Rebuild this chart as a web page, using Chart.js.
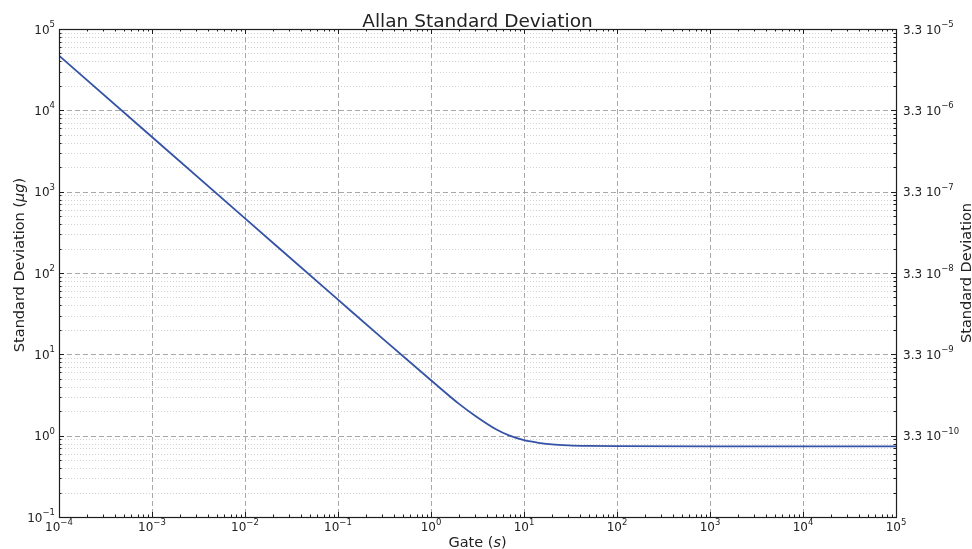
<!DOCTYPE html>
<html>
<head>
<meta charset="utf-8">
<script src="https://cdn.jsdelivr.net/npm/chart.js@4.4.0/dist/chart.umd.min.js"></script>
<style>
  html, body { margin: 0; padding: 0; background: #ffffff; }
  #wrap { width: 972px; height: 549px; position: relative; }
</style>
</head>
<body>
<div id="wrap"><canvas id="chart-allan"></canvas></div>
<script>
// Allan deviation curve
const gateTimes = [1e-4, 1e-3, 1e-2, 1e-1, 0.3, 1, 2, 3, 5, 7, 10, 15, 20, 30, 50, 100, 1e3, 1e4, 1e5];
const stdDevs   = [47000, 4700, 470, 47, 15.7, 4.8, 2.46, 1.75, 1.2, 1.0, 0.88, 0.81, 0.78, 0.76, 0.748, 0.742, 0.74, 0.74, 0.74];

// axis decades and tick labels ("base^exponent")
const xDecades = [-4, -3, -2, -1, 0, 1, 2, 3, 4, 5];
const xTickLabels = ["10^-4", "10^-3", "10^-2", "10^-1", "10^0", "10^1", "10^2", "10^3", "10^4", "10^5"];
const yDecades = [-1, 0, 1, 2, 3, 4, 5];
const yTickLabels = ["10^-1", "10^0", "10^1", "10^2", "10^3", "10^4", "10^5"];
const rightTickValues = [3.3e-10, 3.3e-9, 3.3e-8, 3.3e-7, 3.3e-6, 3.3e-5];
const rightTickLabels = ["3.3 10^-10", "3.3 10^-9", "3.3 10^-8", "3.3 10^-7", "3.3 10^-6", "3.3 10^-5"];
const rightScale = 3.3e-10;

const FONT = "'DejaVu Sans', sans-serif";
const TEXT = "#222222";
const LINE = "#3553a6";
const BASE_SIZE = 12;
const EXP_SIZE = 8.5;
const EXP_RISE = 6.5;

function isDecade(v) {
  const e = Math.log10(v);
  return Math.abs(e - Math.round(e)) < 1e-9;
}

// decade + minor (2..9) tick values over a list of decades
function logTicks(decades) {
  const out = [];
  decades.forEach((d, i) => {
    const base = Math.pow(10, d);
    out.push(base);
    if (i < decades.length - 1) {
      for (let k = 2; k <= 9; k++) out.push(k * base);
    }
  });
  return out;
}

// draw "10^-4" style label; align: 'center' | 'right' | 'left' at x, base baseline at y
function drawPower(ctx, label, x, y, align) {
  const [base, exp] = label.split("^");
  const expText = exp.replace("-", "\u2212");
  ctx.font = BASE_SIZE + "px " + FONT;
  const wb = ctx.measureText(base).width;
  ctx.font = EXP_SIZE + "px " + FONT;
  const we = ctx.measureText(expText).width;
  const total = wb + we;
  let x0 = x;
  if (align === "center") x0 = x - total / 2;
  else if (align === "right") x0 = x - total;
  ctx.font = BASE_SIZE + "px " + FONT;
  ctx.fillText(base, x0, y);
  ctx.font = EXP_SIZE + "px " + FONT;
  ctx.fillText(expText, x0 + wb, y - EXP_RISE);
}

const gridAndFrame = {
  id: "gridAndFrame",
  beforeDatasetsDraw(chart) {
    const { ctx, chartArea: a, scales } = chart;
    ctx.save();
    // minor horizontal dotted lines
    ctx.lineWidth = 1;
    ctx.strokeStyle = "#d2d2d2";
    ctx.setLineDash([1, 2]);
    scales.y.ticks.forEach((t) => {
      if (isDecade(t.value)) return;
      const y = Math.round(scales.y.getPixelForValue(t.value)) + 0.5;
      ctx.beginPath(); ctx.moveTo(a.left, y); ctx.lineTo(a.right, y); ctx.stroke();
    });
    // major dashed lines
    ctx.strokeStyle = "#a8a8a8";
    ctx.setLineDash([5, 3]);
    scales.y.ticks.forEach((t) => {
      if (!isDecade(t.value)) return;
      const y = Math.round(scales.y.getPixelForValue(t.value)) + 0.5;
      ctx.beginPath(); ctx.moveTo(a.left, y); ctx.lineTo(a.right, y); ctx.stroke();
    });
    scales.x.ticks.forEach((t) => {
      if (!isDecade(t.value)) return;
      const x = Math.round(scales.x.getPixelForValue(t.value)) + 0.5;
      ctx.beginPath(); ctx.moveTo(x, a.top); ctx.lineTo(x, a.bottom); ctx.stroke();
    });
    ctx.restore();
  },
  afterDatasetsDraw(chart) {
    const { ctx, chartArea: a, scales } = chart;
    ctx.save();
    ctx.setLineDash([]);
    ctx.strokeStyle = "#1e1e1e";
    ctx.lineWidth = 1;
    // inward tick marks on all four sides
    scales.x.ticks.forEach((t) => {
      const len = isDecade(t.value) ? 5 : 2.5;
      const x = Math.round(scales.x.getPixelForValue(t.value)) + 0.5;
      ctx.beginPath();
      ctx.moveTo(x, a.bottom); ctx.lineTo(x, a.bottom - len);
      ctx.moveTo(x, a.top); ctx.lineTo(x, a.top + len);
      ctx.stroke();
    });
    scales.y.ticks.forEach((t) => {
      const len = isDecade(t.value) ? 5 : 2.5;
      const y = Math.round(scales.y.getPixelForValue(t.value)) + 0.5;
      ctx.beginPath();
      ctx.moveTo(a.left, y); ctx.lineTo(a.left + len, y);
      ctx.moveTo(a.right, y); ctx.lineTo(a.right - len, y);
      ctx.stroke();
    });
    ctx.lineWidth = 1.2;
    ctx.strokeRect(Math.round(a.left) + 0.5, Math.round(a.top) + 0.5,
      Math.round(a.right - a.left), Math.round(a.bottom - a.top));
    ctx.restore();
  }
};

const tickLabels = {
  id: "tickLabels",
  afterDraw(chart) {
    const { ctx, chartArea: a, scales } = chart;
    ctx.save();
    ctx.fillStyle = TEXT;
    ctx.textBaseline = "alphabetic";
    ctx.textAlign = "left";
    xDecades.forEach((d, i) => {
      const x = scales.x.getPixelForValue(Math.pow(10, d));
      drawPower(ctx, xTickLabels[i], x, a.bottom + 14, "center");
    });
    yDecades.forEach((d, i) => {
      const y = scales.y.getPixelForValue(Math.pow(10, d));
      drawPower(ctx, yTickLabels[i], a.left - 4, y + 4.5, "right");
    });
    rightTickValues.forEach((v, i) => {
      const y = scales.y2.getPixelForValue(v);
      drawPower(ctx, rightTickLabels[i], a.right + 7, y + 4.5, "left");
    });
    ctx.restore();
  }
};

// text with upright and italic (math) runs, centred on the origin
function drawRuns(ctx, runs, size) {
  const fontFor = (r) => (r.italic ? "italic " : "") + size + "px " + FONT;
  let total = 0;
  runs.forEach((r) => { ctx.font = fontFor(r); total += ctx.measureText(r.text).width; });
  let x = -total / 2;
  runs.forEach((r) => {
    ctx.font = fontFor(r);
    ctx.fillText(r.text, x, 0);
    x += ctx.measureText(r.text).width;
  });
}

const titles = {
  id: "titles",
  afterDraw(chart) {
    const { ctx, chartArea: a } = chart;
    const cx = (a.left + a.right) / 2;
    const cy = (a.top + a.bottom) / 2;
    ctx.save();
    ctx.fillStyle = TEXT;
    ctx.textBaseline = "alphabetic";
    ctx.textAlign = "left";

    ctx.save();
    ctx.translate(cx, 26.5);
    drawRuns(ctx, [{ text: "Allan Standard Deviation" }], 18.5);
    ctx.restore();

    ctx.save();
    ctx.translate(cx, 546.5);
    drawRuns(ctx, [{ text: "Gate (" }, { text: "s", italic: true }, { text: ")" }], 14.5);
    ctx.restore();

    ctx.save();
    ctx.translate(24, cy - 8);
    ctx.rotate(-Math.PI / 2);
    drawRuns(ctx, [{ text: "Standard Deviation (" }, { text: "μg", italic: true }, { text: ")" }], 14.5);
    ctx.restore();

    ctx.save();
    ctx.translate(971, cy);
    ctx.rotate(-Math.PI / 2);
    drawRuns(ctx, [{ text: "Standard Deviation" }], 14.5);
    ctx.restore();

    ctx.restore();
  }
};

new Chart(document.getElementById("chart-allan"), {
  type: "line",
  data: {
    datasets: [{
      label: "Allan deviation",
      data: gateTimes.map((t, i) => ({ x: t, y: stdDevs[i] })),
      borderColor: LINE,
      borderWidth: 1.8,
      pointRadius: 0,
      fill: false,
      cubicInterpolationMode: "monotone"
    }]
  },
  options: {
    responsive: true,
    maintainAspectRatio: false,
    animation: false,
    layout: { padding: { top: 29, left: 0, right: 0, bottom: 0 } },
    plugins: { legend: { display: false }, tooltip: { enabled: false }, title: { display: false } },
    scales: {
      x: {
        type: "logarithmic",
        position: "bottom",
        min: 1e-4,
        max: 1e5,
        afterBuildTicks: (s) => { s.ticks = logTicks(xDecades).map((v) => ({ value: v })); },
        afterFit: (s) => { s.height = 32; },
        grid: { display: false },
        border: { display: false },
        ticks: { display: false }
      },
      y: {
        type: "logarithmic",
        position: "left",
        min: 1e-1,
        max: 1e5,
        afterBuildTicks: (s) => { s.ticks = logTicks(yDecades).map((v) => ({ value: v })); },
        afterFit: (s) => { s.width = 59; },
        grid: { display: false },
        border: { display: false },
        ticks: { display: false }
      },
      y2: {
        type: "logarithmic",
        position: "right",
        min: 1e-1 * rightScale,
        max: 1e5 * rightScale,
        afterBuildTicks: (s) => { s.ticks = rightTickValues.map((v) => ({ value: v })); },
        afterFit: (s) => { s.width = 76; },
        grid: { display: false },
        border: { display: false },
        ticks: { display: false }
      }
    }
  },
  plugins: [gridAndFrame, tickLabels, titles]
});
</script>
</body>
</html>
